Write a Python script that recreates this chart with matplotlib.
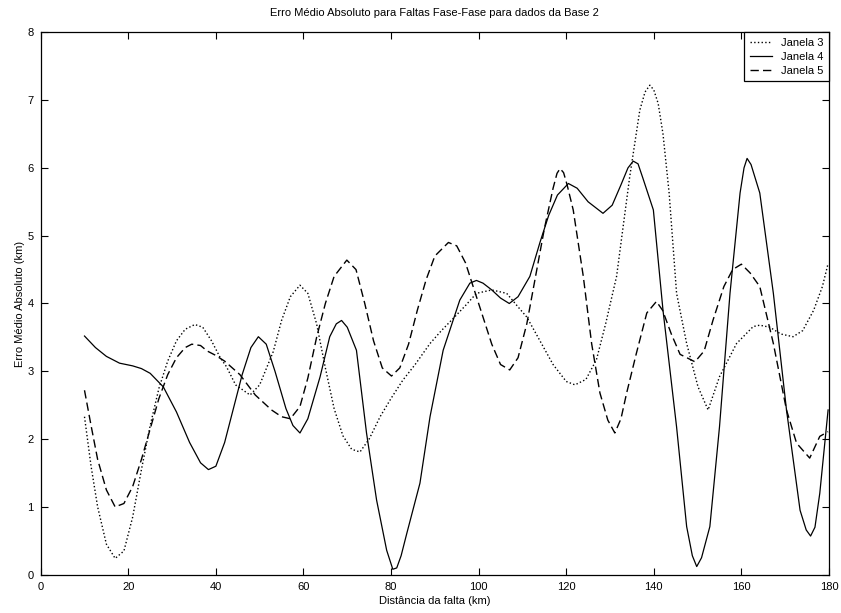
import matplotlib
matplotlib.use("Agg")
import matplotlib.pyplot as plt

plt.rcParams['font.family'] = ['Liberation Sans', 'DejaVu Sans']

# Janela 3 (dotted)
x3 = [10, 11.5, 13, 15, 17, 19, 21, 23, 25, 27, 29, 31, 33, 35.2, 37, 39, 41, 42.4, 44.5,
      47.8, 50, 53.1, 55, 57, 59.2, 61, 63, 65, 67, 69, 71, 72.9, 75, 77.5, 80, 82.7, 85.5,
      88.9, 91.5, 94.2, 97, 99.5, 103, 106.4, 109, 111, 114, 117, 120, 122, 124.5, 126.9,
      129, 131.5, 134.5, 136.8, 138, 139.1, 140, 141, 142.1, 143.5, 145.2, 147.5, 150.1,
      152.4, 155, 158.9, 162.7, 164.2, 166.5, 169, 171.8, 174, 176.5, 178.5, 179.8]
y3 = [2.33, 1.6, 1.0, 0.45, 0.24, 0.35, 0.85, 1.55, 2.2, 2.75, 3.15, 3.45, 3.62, 3.69, 3.65,
      3.45, 3.2, 3.07, 2.8, 2.65, 2.8, 3.29, 3.75, 4.1, 4.27, 4.15, 3.7, 3.05, 2.45, 2.05,
      1.85, 1.81, 2.0, 2.33, 2.6, 2.87, 3.1, 3.41, 3.6, 3.78, 3.97, 4.15, 4.2, 4.15, 3.95,
      3.8, 3.45, 3.1, 2.85, 2.8, 2.88, 3.17, 3.7, 4.4, 5.87, 6.85, 7.12, 7.22, 7.15, 6.95,
      6.5, 5.63, 4.15, 3.41, 2.77, 2.43, 2.92, 3.41, 3.66, 3.68, 3.65, 3.55, 3.51, 3.6,
      3.9, 4.25, 4.59]

# Janela 4 (solid)
x4 = [10, 12.5, 15, 18, 21, 23, 25, 28, 31, 34, 36.5, 38.3, 40, 42, 44, 46, 48, 49.7, 51.5,
      53.5, 56, 57.6, 59.2, 61, 63.8, 66, 67.5, 68.7, 70, 72.1, 74.4, 76.7, 79, 80.4, 81.3,
      82.3, 83.6, 86.6, 88.9, 91.9, 95.7, 98, 99.5, 101, 103, 105, 107, 109, 111.7, 114,
      116, 118, 120.5, 122.5, 125, 128.4, 130.5, 132.5, 134.1, 135.3, 136.4, 137.5, 139.9,
      142.1, 145.2, 147.5, 148.8, 149.8, 150.9, 152.8, 155, 157.4, 159.7, 160.6, 161.3,
      162.2, 164.2, 167.3, 170.3, 173.4, 174.8, 175.8, 176.8, 177.9, 179.8]
y4 = [3.52, 3.35, 3.22, 3.12, 3.08, 3.04, 2.97, 2.77, 2.4, 1.95, 1.65, 1.55, 1.6, 1.95, 2.45,
      2.95, 3.35, 3.51, 3.4, 3.0, 2.45, 2.2, 2.09, 2.3, 2.92, 3.51, 3.7, 3.75, 3.65, 3.31,
      2.09, 1.1, 0.36, 0.08, 0.1, 0.28, 0.61, 1.35, 2.33, 3.31, 4.05, 4.3, 4.34, 4.3, 4.2,
      4.08, 4.0, 4.1, 4.4, 4.9, 5.3, 5.6, 5.77, 5.7, 5.5, 5.33, 5.45, 5.75, 6.0, 6.1, 6.06,
      5.85, 5.38, 3.9, 2.18, 0.71, 0.28, 0.12, 0.25, 0.71, 2.18, 4.15, 5.63, 6.0, 6.14, 6.05,
      5.63, 4.15, 2.43, 0.95, 0.66, 0.57, 0.7, 1.2, 2.43]

# Janela 5 (dashed)
x5 = [10, 11.5, 13, 15, 17, 19, 21, 23, 25, 27, 29, 31, 33, 34.5, 36.5, 38, 39.8, 42, 45.5,
      49, 52.7, 55, 57, 59.2, 61, 63, 65, 67, 69.9, 72, 74, 76, 78, 80.1, 82, 84, 86, 88,
      90, 93.1, 95, 97, 99, 101, 103, 105, 107.1, 109, 111, 113, 115, 117, 117.9, 118.6,
      119.4, 120.2, 121.6, 123.9, 125.8, 127.7, 129.5, 131.1, 132.5, 133.8, 136, 138.4,
      140.6, 142, 144, 146, 149.4, 151.5, 153.5, 156, 158, 160, 162, 164.2, 167.3, 170.3,
      172.6, 175.6, 177.9, 179.8]
y5 = [2.72, 2.2, 1.7, 1.25, 1.0, 1.05, 1.3, 1.7, 2.15, 2.6, 2.95, 3.2, 3.35, 3.4, 3.38, 3.3,
      3.24, 3.15, 2.95, 2.65, 2.43, 2.33, 2.3, 2.48, 2.9, 3.5, 4.0, 4.4, 4.64, 4.5, 4.0,
      3.45, 3.05, 2.93, 3.05, 3.4, 3.9, 4.35, 4.7, 4.9, 4.85, 4.6, 4.2, 3.8, 3.4, 3.1, 3.02,
      3.2, 3.7, 4.4, 5.1, 5.7, 5.92, 5.99, 5.93, 5.75, 5.38, 4.4, 3.41, 2.68, 2.28, 2.09,
      2.3, 2.68, 3.26, 3.86, 4.03, 3.9, 3.55, 3.25, 3.14, 3.3, 3.75, 4.25, 4.5, 4.58, 4.45,
      4.25, 3.41, 2.43, 1.94, 1.72, 2.04, 2.11]

labels = ['Janela 3', 'Janela 4', 'Janela 5']

fig = plt.figure(figsize=(8.41, 6.13), dpi=100)
ax = fig.add_axes([0.0484, 0.0625, 0.9373, 0.8848])

ax.plot(x3, y3, color='black', linestyle=':', linewidth=1.0, label=labels[0])
ax.plot(x4, y4, color='black', linestyle='-', linewidth=0.9, label=labels[1])
ax.plot(x5, y5, color='black', linestyle='--', dashes=(6, 3), linewidth=1.0, label=labels[2])

ax.set_xlim(0, 180)
ax.set_ylim(0, 8)
ax.set_xticks(range(0, 181, 20))
ax.set_yticks(range(0, 9))
ax.tick_params(direction='in', length=5, width=0.8, labelsize=8,
               top=True, right=True, pad=5)
for s in ax.spines.values():
    s.set_linewidth(0.9)

ax.set_title('Erro Médio Absoluto para Faltas Fase-Fase para dados da Base 2',
             fontsize=8, pad=12)
ax.set_xlabel('Distância da falta (km)', fontsize=8, labelpad=3)
ax.set_ylabel('Erro Médio Absoluto (km)', fontsize=8, labelpad=2)

leg = ax.legend(loc='upper right', bbox_to_anchor=(1, 1), borderaxespad=0,
                fancybox=False, edgecolor='black', framealpha=1, fontsize=8,
                handlelength=2.0, labelspacing=0.35, borderpad=0.5)
leg.get_frame().set_linewidth(0.9)

fig.savefig('out.png', dpi=100)
